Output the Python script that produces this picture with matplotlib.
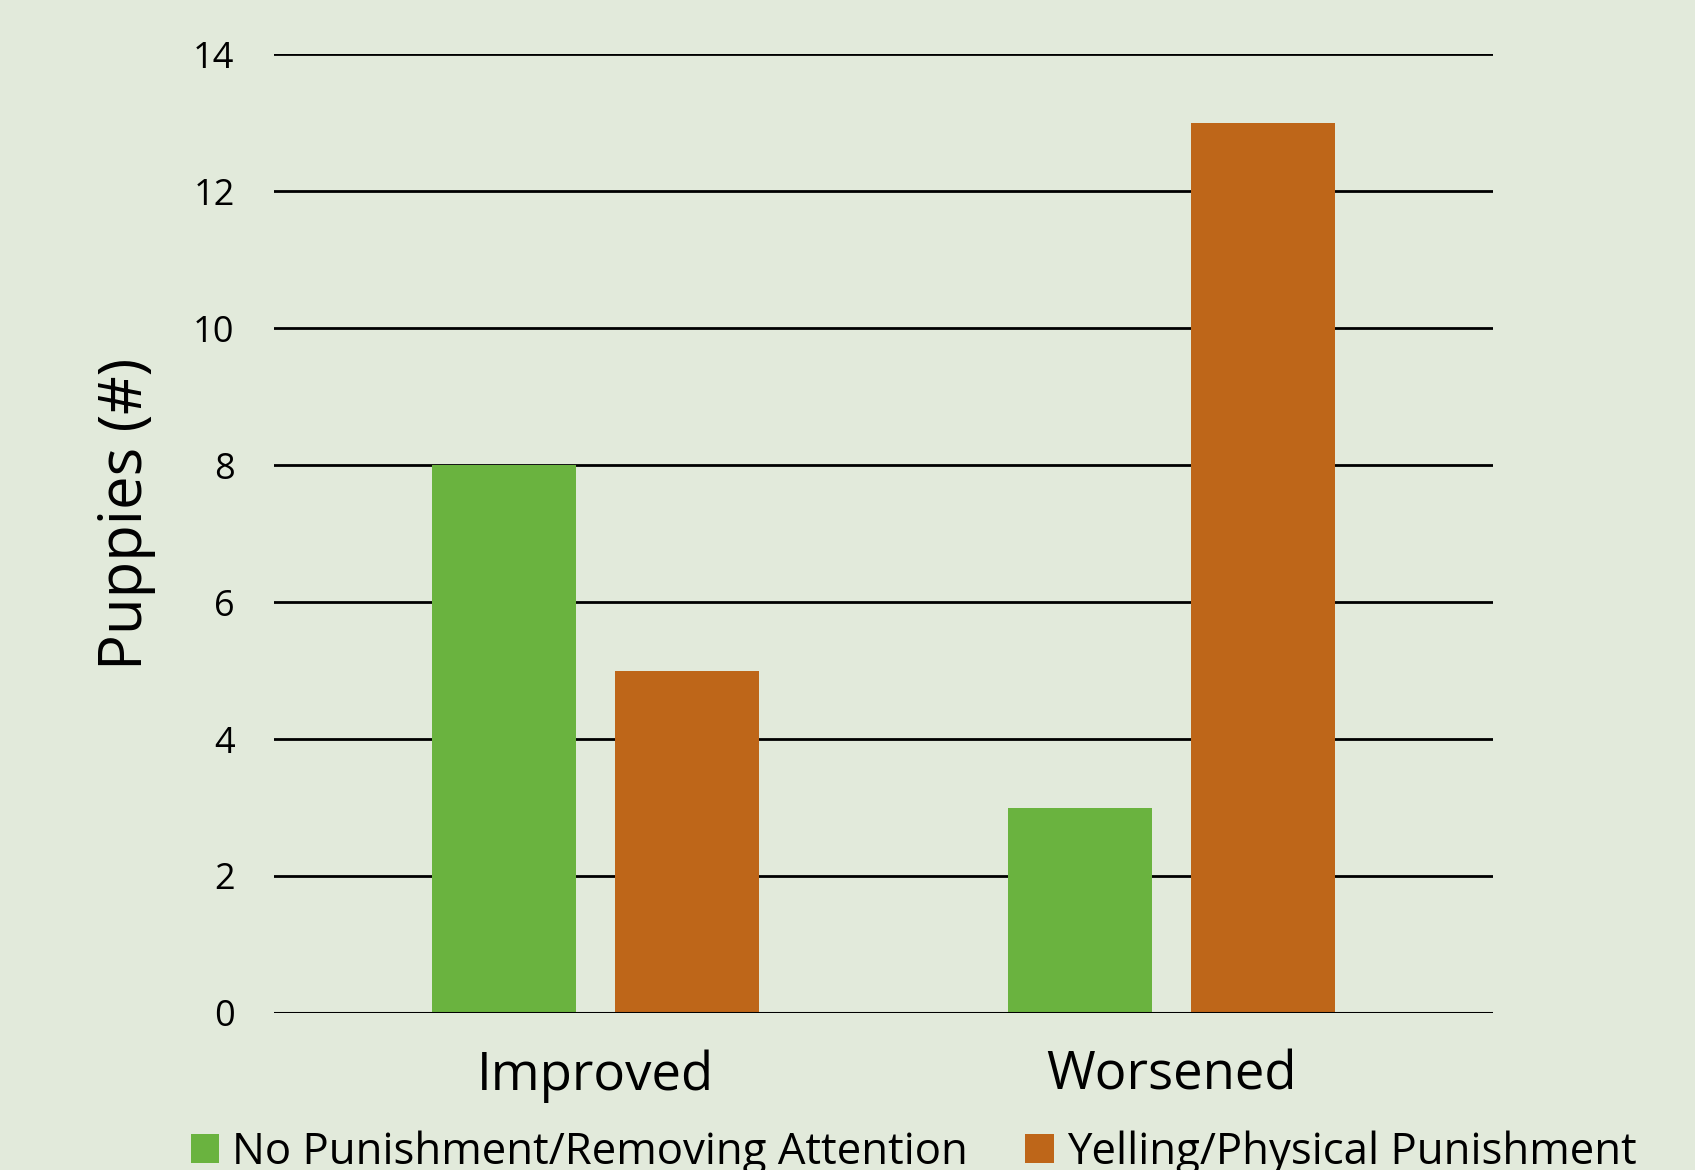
import numpy as np
import matplotlib.pyplot as plt
from matplotlib.patches import Patch

categories = ['Improved', 'Worsened']
series_names = ['No Punishment/Removing Attention', 'Yelling/Physical Punishment']
no_punishment = [8, 3]
yelling = [5, 13]
y_ticks = [0, 2, 4, 6, 8, 10, 12, 14]

BG = '#E2EADB'
GREEN = '#6AB33F'
ORANGE = '#BE6619'

plt.rcParams['font.family'] = ['Open Sans', 'DejaVu Sans']

fig = plt.figure(figsize=(16.95, 11.7), dpi=100, facecolor=BG)
ax = fig.add_axes([0.1614, 0.1342, 0.7195, 0.8196])
ax.set_facecolor(BG)

x = np.arange(len(categories))
width = 0.25
offset = 0.159
ax.bar(x - offset, no_punishment, width, color=GREEN, zorder=3)
ax.bar(x + offset, yelling, width, color=ORANGE, zorder=3)

ax.set_xlim(-0.56, 1.559)
ax.set_ylim(0, 14)
ax.set_yticks(y_ticks)
ax.yaxis.grid(True, color='black', linewidth=2, zorder=1)
ax.set_axisbelow(True)
for s in ['top', 'right', 'left', 'bottom']:
    ax.spines[s].set_visible(False)
ax.axhline(0, color='black', linewidth=2.2, zorder=4)

ax.set_xticks(x)
ax.set_xticklabels(categories, fontsize=38)
ax.tick_params(axis='x', length=0, pad=26)
ax.tick_params(axis='y', length=0, pad=28, labelsize=26)

ax.set_ylabel('Puppies (#)', fontsize=43)
ax.yaxis.set_label_coords(-0.096, 0.52)

handles = [Patch(facecolor=GREEN), Patch(facecolor=ORANGE)]
fig.legend(handles, series_names, loc='upper center', bbox_to_anchor=(0.539, 0.034),
           ncol=2, frameon=False, fontsize=31.5, handlelength=0.65, handleheight=0.65,
           handletextpad=0.3, columnspacing=1.3, borderaxespad=0, borderpad=0)

fig.savefig('out.png', dpi=100, facecolor=BG)
